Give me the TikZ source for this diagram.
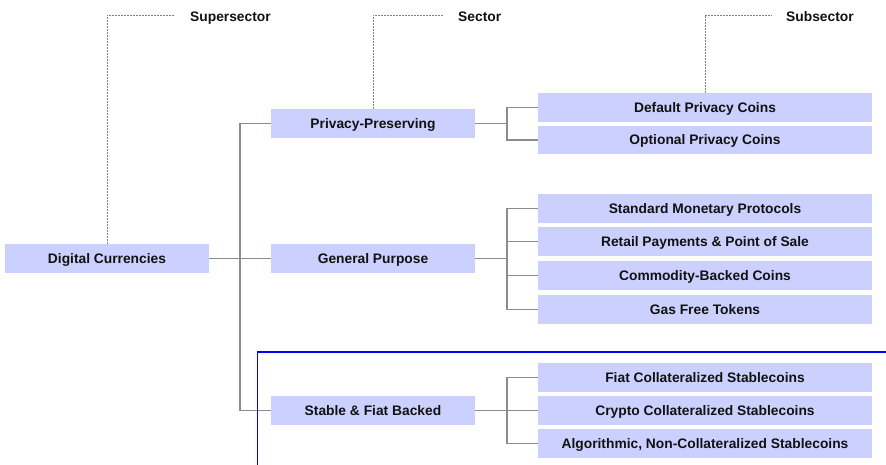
\documentclass[tikz,border=0pt]{standalone}
\usepackage{fontspec}
\setmainfont{Liberation Sans}
\begin{document}
\begin{tikzpicture}[x=1pt,y=-1pt,
  box/.style={fill=boxfill, draw=none, inner sep=0pt, minimum height=28.5pt, text height=9.9pt, text depth=0pt, font=\fontsize{13.8}{15}\selectfont\bfseries, text=black!93},
  mainbox/.style={box, minimum width=204pt},
  subbox/.style={box, minimum width=334pt},
  conn/.style={draw=black!45, line width=1.2pt},
  lead/.style={draw=black!50, line width=0.7pt, dash pattern=on 2pt off 1pt},
  lbl/.style={font=\fontsize{13.8}{15}\selectfont\bfseries, anchor=west, inner sep=0pt, text height=9.9pt, text depth=0pt, text=black!93}]
\definecolor{boxfill}{RGB}{204,208,255}
\useasboundingbox (0,0) rectangle (886,465);
% nodes
\node[mainbox] (dc) at (107,258.3) {Digital Currencies};
\node[mainbox] (pp) at (373,123.5) {Privacy-Preserving};
\node[mainbox] (gp) at (373,258.3) {General Purpose};
\node[mainbox] (sf) at (373,410.5) {Stable \& Fiat Backed};
\node[subbox] (s1) at (705,107.5) {Default Privacy Coins};
\node[subbox] (s2) at (705,140) {Optional Privacy Coins};
\node[subbox] (s3) at (705,208.3) {Standard Monetary Protocols};
\node[subbox] (s4) at (705,241.7) {Retail Payments \& Point of Sale};
\node[subbox] (s5) at (705,275.5) {Commodity-Backed Coins};
\node[subbox] (s6) at (705,309.5) {Gas Free Tokens};
\node[subbox] (s7) at (705,377.5) {Fiat Collateralized Stablecoins};
\node[subbox] (s8) at (705,410.5) {Crypto Collateralized Stablecoins};
\node[subbox] (s9) at (705,443.3) {Algorithmic, Non-Collateralized Stablecoins};
% labels
\node[lbl] (lsup) at (190,16.5) {Supersector};
\node[lbl] (lsec) at (458,16.5) {Sector};
\node[lbl] (lsub) at (786,16.5) {Subsector};
% branch coordinates
\coordinate (b0) at (240,258.3);
\coordinate (b1) at (507,123.5);
\coordinate (b2) at (507,258.3);
\coordinate (b3) at (507,410.5);
% connectors level 1
\draw[conn] (dc.east) -- (gp.west);
\draw[conn] (pp.west) -| (b0) |- (sf.west);
% level 2
\draw[conn] (pp.east) -- (b1);
\draw[conn] (s1.west) -| (b1) |- (s2.west);
\draw[conn] (gp.east) -- (b2);
\draw[conn] (s3.west) -| (b2) |- (s6.west);
\draw[conn] (b2 |- s4.west) -- (s4.west);
\draw[conn] (b2 |- s5.west) -- (s5.west);
\draw[conn] (sf.east) -- (b3);
\draw[conn] (s7.west) -| (b3) |- (s9.west);
\draw[conn] (b3) -- (s8.west);
% leader lines
\coordinate (c1) at (107,15);
\coordinate (c2) at (373,15);
\coordinate (c3) at (705,15);
\draw[lead] (dc.north) -- (c1) -- ([xshift=-15pt]lsup.west |- c1);
\draw[lead] (pp.north) -- (c2) -- ([xshift=-15pt]lsec.west |- c2);
\draw[lead] (s1.north) -- (c3) -- ([xshift=-14pt]lsub.west |- c3);
% blue outline
\coordinate (u1) at (257.5,465);
\coordinate (u2) at (257.5,352.3);
\coordinate (u3) at (886,352.3);
\draw[blue, line width=1.8pt] (u1) -- (u2) -- (u3);
\end{tikzpicture}
\end{document}
